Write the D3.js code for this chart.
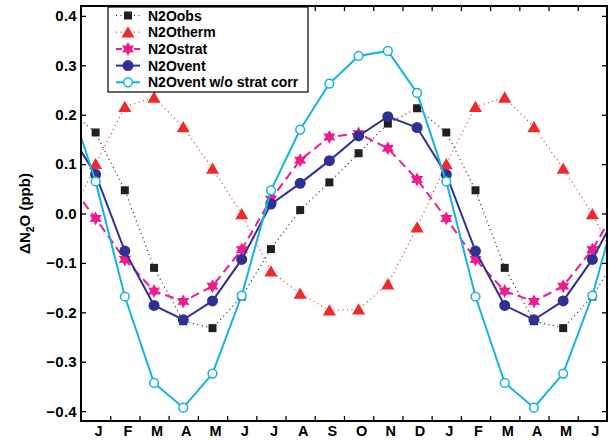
<!DOCTYPE html>
<html>
<head>
<meta charset="utf-8">
<script src="https://cdn.jsdelivr.net/npm/d3@7"></script>
<style>
  body { margin: 0; background: #fff; }
  text { font-family: "Liberation Sans", Arial, Helvetica, sans-serif; font-weight: bold; }
</style>
</head>
<body>
<script>
// months, including the December before and the June after (they are clipped by the axes)
const months = ["D", "J", "F", "M", "A", "M", "J", "J", "A", "S", "O", "N", "D",
                "J", "F", "M", "A", "M", "J", "J"]

const obs   = [0.213, 0.164, 0.047, -0.110, -0.218, -0.232, -0.168, -0.072, 0.007, 0.063, 0.122, 0.182, 0.213,
               0.164, 0.047, -0.110, -0.218, -0.232, -0.168, -0.072]
const therm = [-0.028, 0.100, 0.216, 0.235, 0.175, 0.091, -0.001, -0.117, -0.162, -0.196, -0.194, -0.143, -0.028,
               0.100, 0.216, 0.235, 0.175, 0.091, -0.001, -0.117]
const strat = [0.069, -0.010, -0.093, -0.157, -0.178, -0.147, -0.073, 0.029, 0.108, 0.155, 0.162, 0.132, 0.069,
               -0.010, -0.093, -0.157, -0.178, -0.147, -0.073, 0.029]
const vent  = [0.174, 0.079, -0.076, -0.186, -0.215, -0.177, -0.093, 0.019, 0.061, 0.107, 0.157, 0.196, 0.174,
               0.079, -0.076, -0.186, -0.215, -0.177, -0.093, 0.019]
const ventNoStrat = [0.244, 0.065, -0.168, -0.343, -0.393, -0.324, -0.166, 0.047, 0.170, 0.263, 0.319, 0.329, 0.244,
                     0.065, -0.168, -0.343, -0.393, -0.324, -0.166, 0.047]

const yTicks = [-0.4, -0.3, -0.2, -0.1, 0, 0.1, 0.2, 0.3, 0.4]

const width = 610, height = 441
const margin = { left: 81, right: 3, top: 6, bottom: 20 }

const x = d3.scaleLinear().domain([0, 18]).range([margin.left, width - margin.right])
const y = d3.scaleLinear().domain([-0.42, 0.42]).range([height - margin.bottom, margin.top])

// position of month i in the arrays (first entry sits half a month left of the axis)
const xPos = i => x(i - 0.5)

const svg = d3.select("body").append("svg")
    .attr("width", width)
    .attr("height", height)

svg.append("defs").append("clipPath").attr("id", "plotclip")
    .append("rect")
    .attr("x", x(0)).attr("y", y(0.42))
    .attr("width", x(18) - x(0)).attr("height", y(-0.42) - y(0.42))

// hexagram, like matlab's 'h' marker
function hexagram(r) {
    let pts = []
    for (let k = 0; k < 12; k++) {
        let a = -Math.PI / 2 + k * Math.PI / 6
        let rr = k % 2 == 0 ? r : r * 0.55
        pts.push([rr * Math.cos(a), rr * Math.sin(a)])
    }
    return "M" + pts.map(p => p.join(",")).join("L") + "Z"
}

const series = [
    { name: "N2Oobs", values: obs, color: "#231f20", width: 1.2, dash: "1,3.5",
      marker: d3.symbol(d3.symbolSquare, 64)(), fill: "#231f20" },
    { name: "N2Otherm", values: therm, color: "#ed2a2c", width: 1.2, dash: "1,3.5",
      marker: d3.symbol(d3.symbolTriangle, 74)(), fill: "#ed2a2c", dy: 1.5 },
    { name: "N2Ostrat", values: strat, color: "#ec1c8e", width: 2, dash: "9,5",
      marker: hexagram(7), fill: "#ec1c8e" },
    { name: "N2Ovent", values: vent, color: "#2e3192", width: 2, dash: null,
      marker: d3.symbol(d3.symbolCircle, 95)(), fill: "#2e3192" },
    { name: "N2Ovent w/o strat corr", values: ventNoStrat, color: "#14b1e7", width: 2, dash: null,
      marker: d3.symbol(d3.symbolCircle, 60)(), fill: "#fff", open: true }
]

const plot = svg.append("g").attr("clip-path", "url(#plotclip)")

const line = d3.line().x((d, i) => xPos(i)).y(d => y(d))

series.forEach(s => {
    plot.append("path")
        .datum(s.values)
        .attr("fill", "none")
        .attr("stroke", s.color)
        .attr("stroke-width", s.width)
        .attr("stroke-dasharray", s.dash)
        .attr("d", line)

    plot.append("g")
        .selectAll("path")
        .data(s.values)
        .join("path")
        .attr("transform", (d, i) => `translate(${xPos(i)},${y(d) + (s.dy || 0)})`)
        .attr("d", s.marker)
        .attr("fill", s.fill)
        .attr("stroke", s.open ? s.color : "none")
        .attr("stroke-width", s.open ? 1.5 : 0)
})

// axes, matlab style: inner ticks on all four sides
const tickLen = 5
const xTickVals = d3.range(1, 18)

svg.append("g")
    .attr("transform", `translate(0,${y(-0.42)})`)
    .call(d3.axisTop(x).tickValues(xTickVals).tickFormat("").tickSize(tickLen).tickSizeOuter(0))
svg.append("g")
    .attr("transform", `translate(0,${y(0.42)})`)
    .call(d3.axisBottom(x).tickValues(xTickVals).tickFormat("").tickSize(tickLen).tickSizeOuter(0))
svg.append("g")
    .attr("transform", `translate(${x(0)},0)`)
    .call(d3.axisRight(y).tickValues(yTicks).tickFormat("").tickSize(tickLen).tickSizeOuter(0))
svg.append("g")
    .attr("transform", `translate(${x(18)},0)`)
    .call(d3.axisLeft(y).tickValues(yTicks).tickFormat("").tickSize(tickLen).tickSizeOuter(0))

svg.selectAll(".domain").remove()
svg.selectAll(".tick line").attr("stroke", "#000").attr("stroke-width", 1.3)

svg.append("rect")
    .attr("x", x(0)).attr("y", y(0.42))
    .attr("width", x(18) - x(0)).attr("height", y(-0.42) - y(0.42))
    .attr("fill", "none")
    .attr("stroke", "#000")
    .attr("stroke-width", 2)

// y tick labels
svg.append("g")
    .selectAll("text")
    .data(yTicks)
    .join("text")
    .attr("x", x(0) - 4)
    .attr("y", d => y(d))
    .attr("dy", "0.36em")
    .attr("text-anchor", "end")
    .attr("font-size", 15)
    .attr("letter-spacing", 0.3)
    .text(d => (d < 0 ? "\u2212" : "") + Math.abs(d).toFixed(1))

// month labels
svg.append("g")
    .selectAll("text")
    .data(months.map((m, i) => ({ m, i })).filter(d => d.i >= 1 && d.i <= 18))
    .join("text")
    .attr("x", d => xPos(d.i) + 3)
    .attr("y", height - 5)
    .attr("text-anchor", "middle")
    .attr("font-size", 14.5)
    .text(d => d.m)

// y axis title
const yTitle = svg.append("text")
    .attr("transform", `translate(30,${(y(0.42) + y(-0.42)) / 2}) rotate(-90)`)
    .attr("text-anchor", "middle")
    .attr("font-size", 15)
yTitle.append("tspan").text("\u0394N")
yTitle.append("tspan").attr("font-size", 10.5).attr("dy", 4).text("2")
yTitle.append("tspan").attr("dy", -4).text("O (ppb)")

// legend
const legend = svg.append("g")
legend.append("rect")
    .attr("x", 108).attr("y", 7)
    .attr("width", 200).attr("height", 85)
    .attr("fill", "#fff")
    .attr("stroke", "#000")
    .attr("stroke-width", 1.2)

series.forEach((s, k) => {
    const ly = 15.5 + k * 16.7
    legend.append("line")
        .attr("x1", 116).attr("x2", 140)
        .attr("y1", ly).attr("y2", ly)
        .attr("stroke", s.color)
        .attr("stroke-width", s.width)
        .attr("stroke-dasharray", s.dash ? (k == 2 ? "6,3" : s.dash) : null)
    legend.append("path")
        .attr("transform", `translate(128,${ly + (s.dy || 0)})`)
        .attr("d", s.marker)
        .attr("fill", s.fill)
        .attr("stroke", s.open ? s.color : "none")
        .attr("stroke-width", s.open ? 1.5 : 0)
    legend.append("text")
        .attr("x", 148)
        .attr("y", ly)
        .attr("dy", "0.36em")
        .attr("font-size", 14)
        .text(s.name)
})
</script>
</body>
</html>
